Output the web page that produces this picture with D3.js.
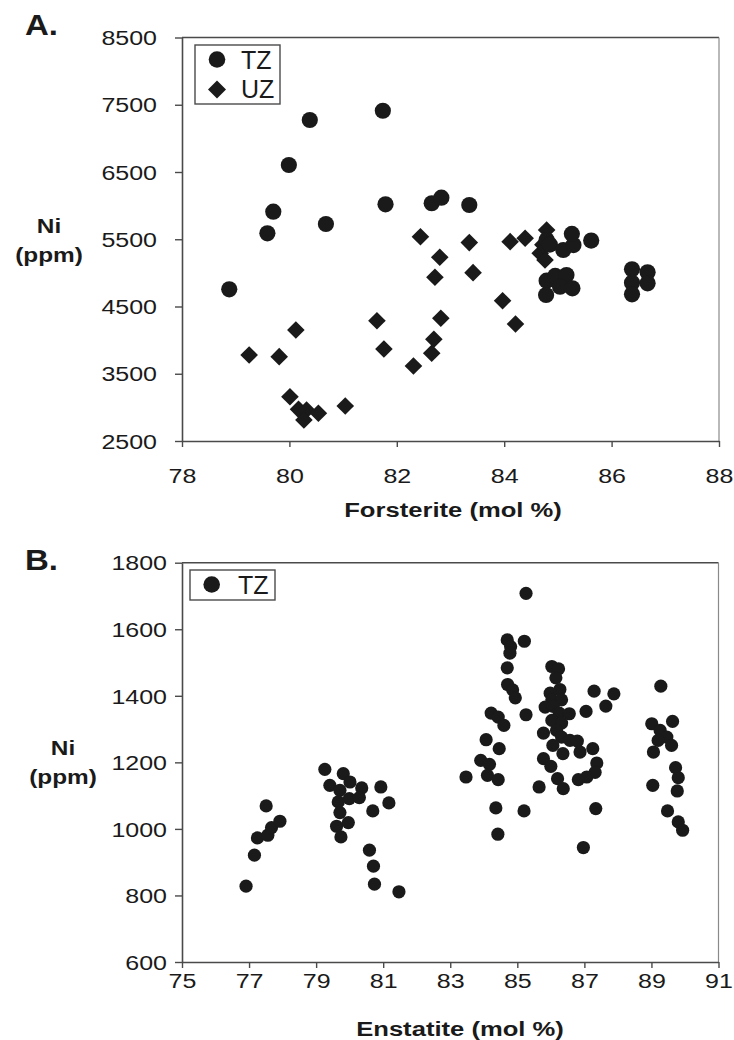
<!DOCTYPE html>
<html>
<head>
<meta charset="utf-8">
<script src="https://cdn.jsdelivr.net/npm/d3@7"></script>
<style>
  html, body { margin: 0; padding: 0; background: #fff; }
  svg { display: block; }
  text { font-family: "Liberation Sans", Arial, sans-serif; fill: #1a1a1a; }
</style>
</head>
<body>
<svg id="chart" width="734" height="1040"></svg>
<script>
// ---------- Data ----------
// Panel A: Forsterite (mol %) vs Ni (ppm)
const tzA = [
  [78.88,4756],[79.59,5588],[79.70,5910],[79.99,6604],[80.38,7273],[80.68,5727],
  [81.74,7411],[81.79,6020],[82.65,6035],[82.83,6118],[83.35,6009],
  [84.79,5489],[84.85,5420],[85.10,5340],[85.29,5414],[85.26,5580],[85.62,5480],
  [84.79,4884],[84.78,4671],[84.95,4954],[85.16,4968],[85.04,4794],[85.27,4770],
  [86.38,5053],[86.38,4854],[86.38,4681],[86.67,5009],[86.67,4845]
];
const uzA = [
  [79.25,3779],[79.81,3754],[80.12,4151],[80.01,3159],[80.17,2971],[80.32,2961],
  [80.27,2812],[80.54,2912],[81.04,3020],[81.63,4289],[81.76,3868],[82.31,3615],
  [82.44,5538],[82.65,3804],[82.69,4012],[82.82,4325],[82.71,4934],[82.80,5232],
  [83.35,5450],[83.42,5003],[83.97,4586],[84.21,4240],[84.11,5464],[84.39,5514],
  [84.79,5637],[84.67,5291],[84.76,5191],[84.72,5420]
];
// Panel B: Enstatite (mol %) vs Ni (ppm)
const tzB = [
  [76.91,828],[77.16,921],[77.25,973],[77.51,1069],[77.56,981],[77.67,1004],[77.92,1023],
  [79.26,1179],[79.81,1166],[79.41,1131],[80.01,1141],[80.36,1123],[79.71,1116],[79.66,1081],
  [79.99,1091],[80.29,1094],[79.71,1049],[79.61,1008],[79.96,1019],[79.74,976],[80.93,1126],
  [81.17,1078],[80.69,1054],[80.59,936],[80.71,888],[80.74,834],[81.47,811],
  [85.26,1708],[84.70,1568],[85.21,1564],[84.80,1548],[84.78,1528],[84.70,1484],[84.71,1434],
  [84.86,1418],[84.94,1394],[85.26,1343],[84.22,1348],[84.43,1336],[84.60,1311],[84.07,1268],
  [84.46,1241],[83.91,1206],[84.17,1194],[83.47,1156],[84.11,1161],[84.43,1148],[84.36,1063],
  [84.42,984],[85.20,1054],[85.65,1126],
  [86.03,1488],[86.23,1481],[86.15,1454],[86.27,1419],[85.98,1408],[86.03,1388],[86.32,1388],
  [85.83,1366],[86.07,1368],[86.25,1348],[86.55,1346],[86.03,1326],[86.32,1318],[85.78,1288],
  [86.17,1296],[86.32,1276],[86.57,1266],[86.79,1264],[86.06,1251],[86.36,1226],[86.87,1231],
  [87.25,1241],[85.78,1211],[86.00,1188],[87.29,1414],[87.88,1406],[87.64,1369],[87.05,1353],
  [87.37,1198],[87.32,1170],[87.07,1156],[86.82,1148],[86.20,1151],[86.37,1121],[87.34,1061],
  [86.97,944],
  [89.28,1429],[89.01,1316],[89.63,1323],[89.26,1296],[89.46,1276],[89.20,1266],[89.60,1251],
  [89.06,1231],[89.04,1131],[89.72,1184],[89.80,1154],[89.77,1114],[89.48,1054],[89.80,1021],
  [89.93,996]
];
const xTicksA = [78, 80, 82, 84, 86, 88];
const yTicksA = [2500, 3500, 4500, 5500, 6500, 7500, 8500];
const xTicksB = [75, 77, 79, 81, 83, 85, 87, 89, 91];
const yTicksB = [600, 800, 1000, 1200, 1400, 1600, 1800];
const legendA = ["TZ", "UZ"];
const legendB = ["TZ"];

// ---------- Drawing ----------
const svg = d3.select("#chart");
const INK = "#1a1a1a";
const AXIS = "#4a4a4a";
const SX = 1.25; // horizontal stretch of the reference's lettering

function stretchedText(g, x, y, str, opts) {
  return g.append("text")
    .attr("transform", `translate(${x},${y}) scale(${opts.sx || SX},1)`)
    .attr("text-anchor", opts.anchor || "start")
    .attr("font-size", opts.size)
    .attr("font-weight", opts.weight || "normal")
    .text(str);
}

function diamondPath(h) { return `M0,${-h}L${h},0L0,${h}L${-h},0Z`; }

function panel(cfg) {
  const g = svg.append("g");
  const x = d3.scaleLinear().domain(cfg.xDomain).range([cfg.left, cfg.right]);
  const y = d3.scaleLinear().domain(cfg.yDomain).range([cfg.bottom, cfg.top]);

  // frame (top & right)
  g.append("line").attr("x1", cfg.left).attr("x2", cfg.right).attr("y1", cfg.top).attr("y2", cfg.top)
    .attr("stroke", AXIS).attr("stroke-width", 1.4);
  g.append("line").attr("x1", cfg.right).attr("x2", cfg.right).attr("y1", cfg.top).attr("y2", cfg.bottom)
    .attr("stroke", "#8a8a8a").attr("stroke-width", 1.2);

  // x axis
  const gx = g.append("g").attr("transform", `translate(0,${cfg.bottom})`)
    .call(d3.axisBottom(x).tickValues(cfg.xTicks).tickSize(6).tickSizeOuter(0).tickFormat(d3.format("d")));
  gx.select(".domain").attr("stroke", AXIS).attr("stroke-width", 1.6);
  gx.selectAll(".tick line").attr("stroke", AXIS).attr("stroke-width", 1.4);
  gx.selectAll(".tick text")
    .attr("y", null).attr("dy", null)
    .attr("transform", `translate(0,${cfg.xLabelOffset}) scale(${SX},1)`)
    .attr("font-size", 20).attr("fill", INK).attr("font-family", null);

  // y axis
  const gy = g.append("g").attr("transform", `translate(${cfg.left},0)`)
    .call(d3.axisLeft(y).tickValues(cfg.yTicks).tickSize(7).tickSizeOuter(0).tickFormat(d3.format("d")));
  gy.select(".domain").attr("stroke", AXIS).attr("stroke-width", 1.6);
  gy.selectAll(".tick line").attr("stroke", AXIS).attr("stroke-width", 1.4);
  gy.selectAll(".tick text")
    .attr("x", null).attr("dy", "0.36em")
    .attr("transform", `translate(${-cfg.yLabelOffset},0) scale(${SX},1)`)
    .attr("font-size", 20).attr("fill", INK).attr("font-family", null);

  // panel letter, y title, x title
  stretchedText(g, 25, cfg.letterY, cfg.letter, { size: 30, weight: "bold", sx: 1.1 });
  stretchedText(g, cfg.yTitleX, cfg.yTitleY, "Ni", { size: 20, weight: "bold", anchor: "middle", sx: 1.22 });
  stretchedText(g, cfg.yTitleX, cfg.yTitleY + 29, "(ppm)", { size: 20, weight: "bold", anchor: "middle", sx: 1.22 });
  stretchedText(g, cfg.xTitleX, cfg.xTitleY, cfg.xTitle, { size: 21, weight: "bold", anchor: "middle", sx: 1.22 });

  return { g, x, y };
}

// ---- Panel A ----
const A = panel({
  left: 182, right: 719, top: 37.5, bottom: 441,
  xDomain: [78, 88], yDomain: [2500, 8500],
  xTicks: xTicksA, yTicks: yTicksA,
  xLabelOffset: 42, yLabelOffset: 25,
  letter: "A.", letterY: 35,
  yTitleX: 49, yTitleY: 233,
  xTitle: "Forsterite (mol %)", xTitleX: 453, xTitleY: 517
});

A.g.append("g").selectAll("path").data(uzA).join("path")
  .attr("d", diamondPath(8.8))
  .attr("transform", d => `translate(${A.x(d[0])},${A.y(d[1])})`)
  .attr("fill", INK);
A.g.append("g").selectAll("circle").data(tzA).join("circle")
  .attr("cx", d => A.x(d[0])).attr("cy", d => A.y(d[1])).attr("r", 8.1)
  .attr("fill", INK);

// legend A
const lgA = A.g.append("g");
lgA.append("rect").attr("x", 195).attr("y", 45).attr("width", 85).attr("height", 59)
  .attr("fill", "#fff").attr("stroke", AXIS).attr("stroke-width", 1.4);
lgA.append("circle").attr("cx", 217).attr("cy", 59.5).attr("r", 8.3).attr("fill", INK);
lgA.append("path").attr("d", diamondPath(9)).attr("transform", "translate(217,89.5)").attr("fill", INK);
lgA.append("text").attr("x", 241).attr("y", 68.5).attr("font-size", 25).text(legendA[0]);
lgA.append("text").attr("x", 241).attr("y", 98).attr("font-size", 25).text(legendA[1]);

// ---- Panel B ----
const B = panel({
  left: 182, right: 718.5, top: 562.7, bottom: 962,
  xDomain: [75, 91], yDomain: [600, 1800],
  xTicks: xTicksB, yTicks: yTicksB,
  xLabelOffset: 26, yLabelOffset: 15,
  letter: "B.", letterY: 570,
  yTitleX: 63, yTitleY: 755,
  xTitle: "Enstatite (mol %)", xTitleX: 460, xTitleY: 1036
});

B.g.append("g").selectAll("circle").data(tzB).join("circle")
  .attr("cx", d => B.x(d[0])).attr("cy", d => B.y(d[1])).attr("r", 6.6)
  .attr("fill", INK);

const lgB = B.g.append("g");
lgB.append("rect").attr("x", 190).attr("y", 570).attr("width", 85).attr("height", 30)
  .attr("fill", "#fff").attr("stroke", AXIS).attr("stroke-width", 1.4);
lgB.append("circle").attr("cx", 211.7).attr("cy", 584.5).attr("r", 8.3).attr("fill", INK);
lgB.append("text").attr("x", 238).attr("y", 594).attr("font-size", 25).text(legendB[0]);
</script>
</body>
</html>
